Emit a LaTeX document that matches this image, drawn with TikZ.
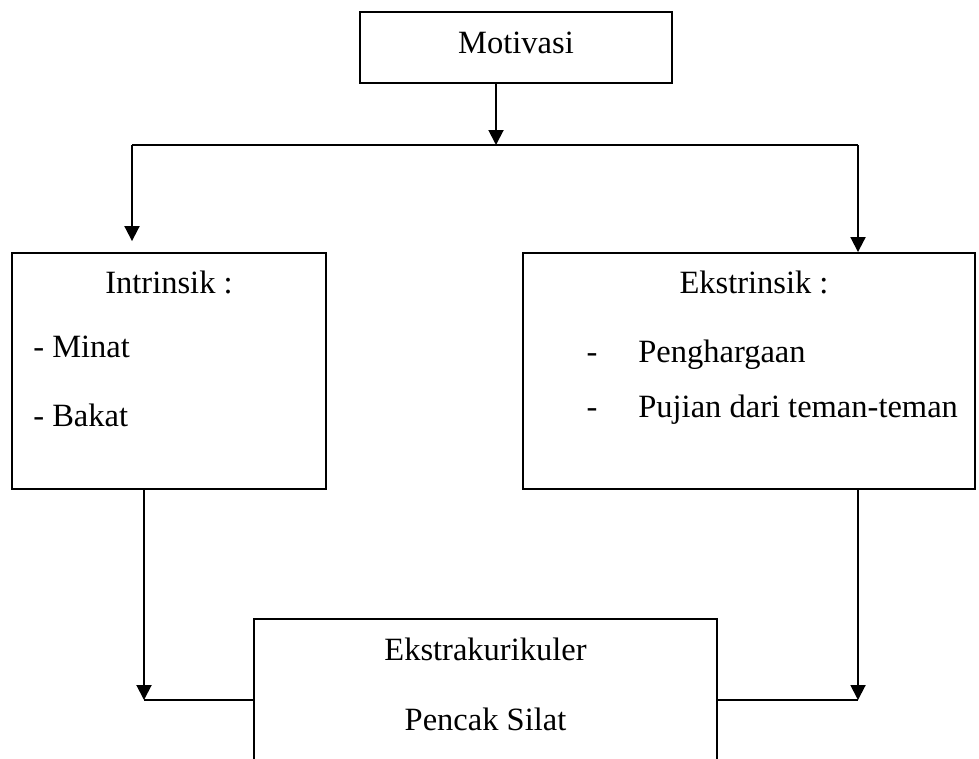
\documentclass[tikz,border=0pt]{standalone}
\usepackage{fontspec}
\setmainfont{Liberation Serif}
\usetikzlibrary{arrows.meta}
\begin{document}
\begin{tikzpicture}[x=0.02cm,y=-0.02cm,
        kotak/.style={draw,line width=1.1pt,inner sep=0pt},
        panah/.style={-{Triangle[width=0.3cm,length=0.3cm]},line width=1.1pt},
        garis/.style={line width=1.1pt},
        teks/.style={font=\fontsize{18.5}{22}\selectfont,inner sep=0pt}]
        \clip (0,0) rectangle (979,758);
        % kotak
        \node[kotak,minimum width=6.24cm,minimum height=1.42cm] (motivasi) at (516,47.5) {};
        \node[kotak,minimum width=6.28cm,minimum height=4.72cm] (intrinsik) at (169,371) {};
        \node[kotak,minimum width=9.04cm,minimum height=4.72cm] (ekstrinsik) at (749,371) {};
        \node[kotak,minimum width=9.26cm,minimum height=3.62cm] (ekskul) at (485.5,709.5) {};
        % teks
        \node[teks,anchor=base] (tmotivasi) at (516,53) {Motivasi};
        \node[teks,anchor=base] (tintrinsik) at (169,293) {Intrinsik :};
        \node[teks,anchor=base west] (tminat) at (33,357) {- Minat};
        \node[teks,anchor=base west] (tbakat) at (33,426) {- Bakat};
        \node[teks,anchor=base] (tekstrinsik) at (754,293) {Ekstrinsik :};
        \node[teks,anchor=base] (dsatu) at (592,362) {-};
        \node[teks,anchor=base west] (tpenghargaan) at (638,362) {Penghargaan};
        \node[teks,anchor=base] (ddua) at (592,417) {-};
        \node[teks,anchor=base west] (tpujian) at (638,417) {Pujian dari teman-teman};
        \node[teks,anchor=base] (tekskul) at (485.5,660) {Ekstrakurikuler};
        \node[teks,anchor=base] (tsilat) at (485.5,730) {Pencak Silat};
        % penghubung
        \coordinate (cabang) at (496,145);
        \coordinate (kiri) at (132,145);
        \coordinate (kanan) at (858,145);
        \coordinate (bawahkiri) at (144,700);
        \coordinate (bawahkanan) at (858,700);
        \draw[panah] (motivasi.south -| cabang) -- (cabang);
        \draw[garis] (kiri) -- (kanan);
        \draw[panah,shorten >=0.22cm] (kiri) -- (kiri |- intrinsik.north);
        \draw[panah] (kanan) -- (kanan |- ekstrinsik.north);
        \draw[panah] (intrinsik.south -| bawahkiri) -- (bawahkiri);
        \draw[garis] (ekskul.west |- bawahkiri) -- (bawahkiri);
        \draw[panah] (ekstrinsik.south -| bawahkanan) -- (bawahkanan);
        \draw[garis] (ekskul.east |- bawahkanan) -- (bawahkanan);
    \end{tikzpicture}
\end{document}
